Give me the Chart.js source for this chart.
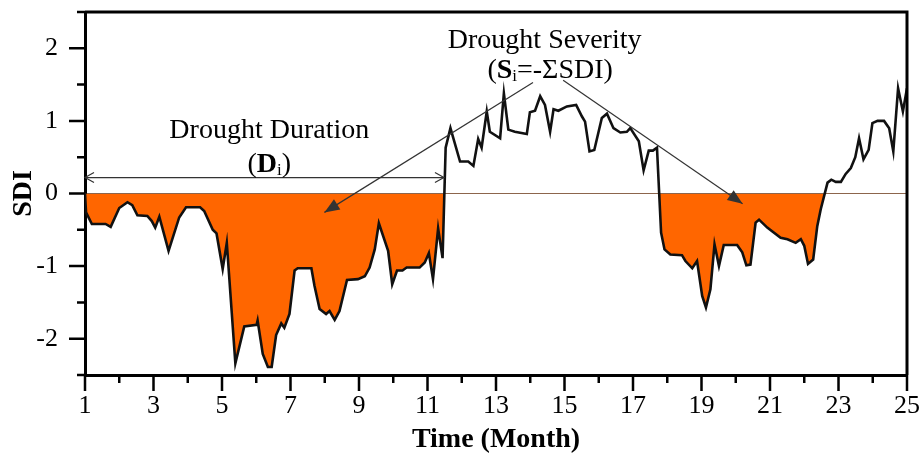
<!DOCTYPE html>
<html>
<head>
<script src="https://cdn.jsdelivr.net/npm/chart.js@4.4.0/dist/chart.umd.min.js"></script>
<style>body{margin:0;background:#fff}</style>
</head>
<body>
<canvas id="canvas" width="923" height="457"></canvas>
<script>
// SDI series (x = month, y = SDI)
const months = [
  1.00, 1.03, 1.20, 1.60, 1.75, 2.00, 2.24, 2.38, 2.53, 2.82, 2.95, 3.05, 3.17, 3.44, 3.75, 3.95,
  4.36, 4.48, 4.73, 4.84, 5.02, 5.14, 5.39, 5.65, 6.01, 6.04, 6.19, 6.34, 6.45, 6.58, 6.73, 6.82,
  6.97, 7.12, 7.21, 7.61, 7.70, 7.85, 8.04, 8.14, 8.29, 8.43, 8.65, 8.97, 9.17, 9.31, 9.46, 9.58,
  9.85, 9.97, 10.11, 10.27, 10.39, 10.77, 10.92, 11.04, 11.16, 11.31, 11.44, 11.53, 11.67, 11.95,
  12.19, 12.34, 12.48, 12.58, 12.73, 12.82, 13.12, 13.23, 13.36, 13.55, 13.90, 13.99, 14.14, 14.29,
  14.43, 14.58, 14.68, 14.82, 15.07, 15.34, 15.51, 15.60, 15.73, 15.87, 16.09, 16.24, 16.43, 16.63,
  16.82, 16.92, 17.17, 17.31, 17.46, 17.58, 17.70, 17.82, 17.92, 18.09, 18.43, 18.53, 18.73, 18.87,
  19.02, 19.13, 19.26, 19.38, 19.51, 19.65, 20.04, 20.19, 20.31, 20.43, 20.58, 20.68, 20.92, 21.31,
  21.51, 21.75, 21.90, 22.00, 22.11, 22.26, 22.38, 22.48, 22.68, 22.79, 22.92, 23.07, 23.21, 23.36,
  23.49, 23.60, 23.73, 23.88, 23.99, 24.14, 24.33, 24.48, 24.60, 24.74, 24.88, 25.00
];
const sdi = [
  0.00, -0.26, -0.42, -0.42, -0.46, -0.20, -0.12, -0.16, -0.30, -0.31, -0.38, -0.47, -0.32, -0.79, -0.33, -0.19,
  -0.19, -0.24, -0.50, -0.55, -1.04, -0.68, -2.34, -1.83, -1.81, -1.75, -2.21, -2.39, -2.39, -1.95, -1.79, -1.85,
  -1.66, -1.06, -1.03, -1.03, -1.27, -1.59, -1.66, -1.62, -1.74, -1.62, -1.19, -1.18, -1.14, -1.02, -0.77, -0.41,
  -0.79, -1.25, -1.06, -1.06, -1.02, -1.02, -0.95, -0.82, -1.18, -0.48, -0.89, 0.63, 0.90, 0.44,
  0.44, 0.38, 0.75, 0.63, 1.13, 0.85, 0.76, 1.38, 0.88, 0.85, 0.82, 1.12, 1.14, 1.34,
  1.22, 0.85, 1.16, 1.14, 1.20, 1.22, 1.06, 0.99, 0.58, 0.60, 1.04, 1.10, 0.90, 0.84,
  0.85, 0.90, 0.72, 0.32, 0.59, 0.59, 0.63, -0.54, -0.77, -0.84, -0.85, -0.93, -1.03, -0.93,
  -1.41, -1.57, -1.32, -0.70, -1.00, -0.71, -0.71, -0.81, -0.99, -0.98, -0.40, -0.36, -0.47, -0.61,
  -0.63, -0.68, -0.63, -0.72, -0.97, -0.91, -0.45, -0.22, 0.15, 0.19, 0.16, 0.16, 0.27, 0.35,
  0.50, 0.76, 0.47, 0.60, 0.97, 1.00, 1.00, 0.90, 0.58, 1.45, 1.13, 1.45
];
// tick positions (every month / every half unit) and the ones that carry a label
const xTickValues = [1, 2, 3, 4, 5, 6, 7, 8, 9, 10, 11, 12, 13, 14, 15, 16, 17, 18, 19, 20, 21, 22, 23, 24, 25];
const xLabels = [1, 3, 5, 7, 9, 11, 13, 15, 17, 19, 21, 23, 25];
const yTickValues = [-2.5, -2, -1.5, -1, -0.5, 0, 0.5, 1, 1.5, 2, 2.5];
const yLabels = [-2, -1, 0, 1, 2];

const serif = "'Liberation Serif', 'Times New Roman', serif";

// draw a line of text made of runs with different fonts, centred on cx, baseline cy
function drawRuns(ctx, runs, cx, cy) {
  let w = 0;
  runs.forEach(r => { ctx.font = r.font; r.w = ctx.measureText(r.t).width; w += r.w; });
  let xx = cx - w / 2;
  ctx.textAlign = 'left';
  ctx.textBaseline = 'alphabetic';
  runs.forEach(r => { ctx.font = r.font; ctx.fillText(r.t, xx, cy + (r.dy || 0)); xx += r.w; });
}

function arrowHead(ctx, fx, fy, tx, ty, len, half, filled) {
  const a = Math.atan2(ty - fy, tx - fx);
  const p1 = [tx - len * Math.cos(a) + half * Math.sin(a), ty - len * Math.sin(a) - half * Math.cos(a)];
  const p2 = [tx - len * Math.cos(a) - half * Math.sin(a), ty - len * Math.sin(a) + half * Math.cos(a)];
  ctx.beginPath();
  ctx.moveTo(p1[0], p1[1]);
  ctx.lineTo(tx, ty);
  ctx.lineTo(p2[0], p2[1]);
  if (filled) { ctx.closePath(); ctx.fill(); } else { ctx.stroke(); }
}

const frameAndNotes = {
  id: 'frameAndNotes',
  afterDraw(chart) {
    const { ctx, chartArea: a, scales: { x, y } } = chart;
    ctx.save();
    ctx.strokeStyle = '#000';
    ctx.lineWidth = 2.5;
    ctx.beginPath();
    x.ticks.forEach(t => {
      const px = x.getPixelForValue(t.value);
      const len = xLabels.includes(t.value) ? 16 : 8;
      ctx.moveTo(px, a.bottom); ctx.lineTo(px, a.bottom + len);
    });
    y.ticks.forEach(t => {
      const py = y.getPixelForValue(t.value);
      const len = yLabels.includes(t.value) ? 16 : 8;
      ctx.moveTo(a.left, py); ctx.lineTo(a.left - len, py);
    });
    ctx.stroke();

    // top and right edges of the frame
    ctx.lineWidth = 3;
    ctx.beginPath();
    ctx.moveTo(a.left, a.top); ctx.lineTo(a.right, a.top); ctx.lineTo(a.right, a.bottom);
    ctx.stroke();

    // duration arrow
    ctx.strokeStyle = '#333';
    ctx.fillStyle = '#333';
    ctx.lineWidth = 1.2;
    const dy = y.getPixelForValue(0.22);
    const d0 = x.getPixelForValue(1), d1 = x.getPixelForValue(11.48);
    ctx.beginPath(); ctx.moveTo(d0, dy); ctx.lineTo(d1, dy); ctx.stroke();
    arrowHead(ctx, d1, dy, d0, dy, 9, 5, false);
    arrowHead(ctx, d0, dy, d1, dy, 9, 5, false);

    // severity arrows
    [[14.08, 1.53, 7.99, -0.26], [14.96, 1.56, 20.2, -0.14]].forEach(s => {
      const fx = x.getPixelForValue(s[0]), fy = y.getPixelForValue(s[1]);
      const tx = x.getPixelForValue(s[2]), ty = y.getPixelForValue(s[3]);
      ctx.beginPath(); ctx.moveTo(fx, fy); ctx.lineTo(tx, ty); ctx.stroke();
      arrowHead(ctx, fx, fy, tx, ty, 15, 6, true);
    });

    // labels
    ctx.fillStyle = '#000';
    const reg = '28px ' + serif, bold = 'bold 28px ' + serif, sub = '17px ' + serif;
    drawRuns(ctx, [{ t: 'Drought Duration', font: reg }], x.getPixelForValue(6.38), y.getPixelForValue(0.77));
    drawRuns(ctx, [{ t: '(', font: reg }, { t: 'D', font: bold }, { t: 'i', font: sub, dy: 3 }, { t: ')', font: reg }],
      x.getPixelForValue(6.38), y.getPixelForValue(0.30));
    drawRuns(ctx, [{ t: 'Drought Severity', font: reg }], x.getPixelForValue(14.42), y.getPixelForValue(2.0));
    drawRuns(ctx, [{ t: '(', font: reg }, { t: 'S', font: bold }, { t: 'i', font: sub, dy: 3 }, { t: '=-ΣSDI)', font: reg }],
      x.getPixelForValue(14.58), y.getPixelForValue(1.59));
    ctx.restore();
  }
};

new Chart(document.getElementById('canvas'), {
  type: 'line',
  data: {
    datasets: [{
      data: months.map((m, i) => ({ x: m, y: sdi[i] })),
      borderColor: '#111',
      borderWidth: 2.6,
      pointRadius: 0,
      tension: 0,
      fill: { target: { value: 0 }, above: 'rgba(0,0,0,0)', below: '#ff6600' }
    }]
  },
  options: {
    responsive: false,
    animation: false,
    devicePixelRatio: 1,
    layout: { padding: { left: 0, right: 16, top: 12, bottom: 0 } },
    plugins: { legend: { display: false }, tooltip: { enabled: false } },
    scales: {
      x: {
        type: 'linear', min: 1, max: 25,
        afterBuildTicks: s => { s.ticks = xTickValues.map(v => ({ value: v })); },
        afterFit: s => { s.height = 82; s.paddingLeft = 0; s.paddingRight = 0; },
        ticks: {
          autoSkip: false, maxRotation: 0, padding: 16, color: '#000',
          font: { family: serif, size: 26 },
          callback: v => xLabels.includes(v) ? String(v) : ''
        },
        grid: { drawOnChartArea: false, drawTicks: false },
        border: { color: '#000', width: 3 },
        title: {
          display: true, text: 'Time (Month)', color: '#000',
          font: { family: serif, size: 28, weight: 'bold' }, padding: { top: 0, bottom: 0 }
        }
      },
      y: {
        min: -2.5, max: 2.5,
        afterBuildTicks: s => { s.ticks = yTickValues.map(v => ({ value: v })); },
        afterFit: s => { s.width = 85; s.paddingTop = 0; s.paddingBottom = 0; },
        ticks: {
          autoSkip: false, padding: 27, color: '#000',
          font: { family: serif, size: 26 },
          callback: v => yLabels.includes(v) ? String(v) : ''
        },
        grid: {
          drawTicks: false, lineWidth: 1,
          color: c => (c.tick && c.tick.value === 0) ? '#666' : 'rgba(0,0,0,0)'
        },
        border: { color: '#000', width: 3 },
        title: {
          display: true, text: 'SDI', color: '#000',
          font: { family: serif, size: 28, weight: 'bold' }, padding: { top: 7, bottom: 4 }
        }
      }
    }
  },
  plugins: [frameAndNotes]
});
</script>
</body>
</html>
